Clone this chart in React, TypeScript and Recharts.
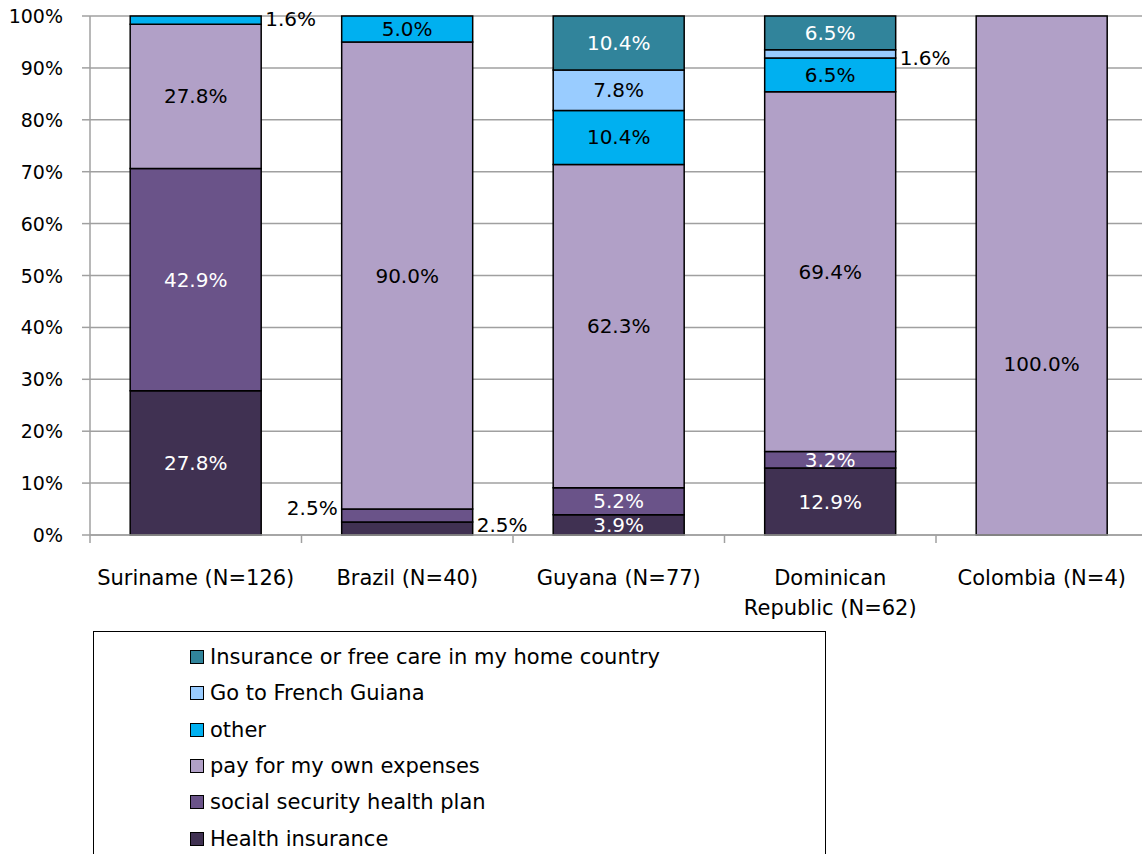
import React from 'react';
import { BarChart, Bar, XAxis, YAxis, CartesianGrid, LabelList } from 'recharts';

const categories = ['Suriname (N=126)', 'Brazil (N=40)', 'Guyana (N=77)', 'Dominican Republic (N=62)', 'Colombia (N=4)'];
const healthInsurance = [27.8, 2.5, 3.9, 12.9, 0];
const socialSecurity = [42.9, 2.5, 5.2, 3.2, 0];
const payOwnExpenses = [27.8, 90.0, 62.3, 69.4, 100.0];
const other = [1.6, 5.0, 10.4, 6.5, 0];
const goToFrenchGuiana = [0, 0, 7.8, 1.6, 0];
const homeCountryCare = [0, 0, 10.4, 6.5, 0];
const yTicks = [0, 0.1, 0.2, 0.3, 0.4, 0.5, 0.6, 0.7, 0.8, 0.9, 1];

const SERIES = [
  { key: 'health', name: 'Health insurance', values: healthInsurance, fill: '#403152', text: '#ffffff' },
  { key: 'social', name: 'social security health plan', values: socialSecurity, fill: '#6a5389', text: '#ffffff' },
  { key: 'pay', name: 'pay for my own expenses', values: payOwnExpenses, fill: '#b1a0c7', text: '#000000' },
  { key: 'other', name: 'other', values: other, fill: '#00b0f0', text: '#000000' },
  { key: 'fg', name: 'Go to French Guiana', values: goToFrenchGuiana, fill: '#99ccff', text: '#000000' },
  { key: 'home', name: 'Insurance or free care in my home country', values: homeCountryCare, fill: '#31849b', text: '#ffffff' },
];

// labels Excel moved off the segment centre (thin segments pushed outside)
const LABEL_POS: Record<string, { side: 'left' | 'right' | 'center'; dy: number }> = {
  'other-0': { side: 'right', dy: -1 },
  'social-1': { side: 'left', dy: -8 },
  'health-1': { side: 'right', dy: -4 },
  'fg-3': { side: 'right', dy: 4 },
  'pay-4': { side: 'center', dy: 88 },
};

const data = categories.map((name, i) => {
  const row: Record<string, any> = { name };
  SERIES.forEach(s => { row[s.key] = s.values[i]; });
  return row;
});

const FONT = 'DejaVu Sans';
const PLOT_LEFT = 90;
const PLOT_RIGHT = 1147.5;
const BAND = (PLOT_RIGHT - PLOT_LEFT) / categories.length;

function wrap(text: string, max: number) {
  const words = text.split(' ');
  const lines: string[] = [];
  let cur = '';
  words.forEach(w => {
    const next = cur ? cur + ' ' + w : w;
    if (next.length > max && cur) { lines.push(cur); cur = w; } else cur = next;
  });
  if (cur) lines.push(cur);
  return lines;
}

const CategoryTick = ({ x, y, payload }: any) => {
  const lines = wrap(payload.value, 16);
  return (
    <g>
      <line x1={x - BAND / 2} x2={x - BAND / 2} y1={y} y2={y + 8} stroke="#a0a0a0" strokeWidth={1.5} />
      <text x={x} y={y} textAnchor="middle" fontSize={21} fill="#000" fontFamily={FONT}>
        {lines.map((l, i) => (
          <tspan key={i} x={x} dy={i === 0 ? 50 : 30}>{l}</tspan>
        ))}
      </text>
    </g>
  );
};

const PercentTick = ({ x, y, payload }: any) => (
  <g>
    <line x1={x - 8} x2={x} y1={y} y2={y} stroke="#a0a0a0" strokeWidth={1.5} />
    <text x={x - 27} y={y} dy={7} textAnchor="end" fontSize={19} fill="#000" fontFamily={FONT}>
      {`${Math.round(payload.value * 100)}%`}
    </text>
  </g>
);

const makeLabel = (s: typeof SERIES[0]) => (props: any) => {
  const { x, y, width, height } = props;
  if (!height) return null;
  // which category this segment belongs to, from its x position
  const idx = Math.floor((x + width / 2 - PLOT_LEFT) / BAND);
  const v = s.values[idx];
  if (!v) return null;
  const pos = LABEL_POS[`${s.key}-${idx}`];
  const cy = y + height / 2;
  const txt = `${v.toFixed(1)}%`;
  if (pos && pos.side !== 'center') {
    const tx = pos.side === 'right' ? x + width + 4 : x - 4;
    return (
      <text x={tx} y={cy + pos.dy} dominantBaseline="central" textAnchor={pos.side === 'right' ? 'start' : 'end'}
        fontSize={20} fill="#000" fontFamily={FONT}>
        {txt}
      </text>
    );
  }
  return (
    <text x={x + width / 2} y={cy + (pos ? pos.dy : 0)} dominantBaseline="central" textAnchor="middle" fontSize={20} fill={s.text} fontFamily={FONT}>
      {txt}
    </text>
  );
};

export default function App() {
  const legendItems = [...SERIES].reverse();
  return (
    <div style={{ position: 'absolute', left: 0, top: 0, width: 1142, height: 854, overflow: 'hidden', background: '#fff', fontFamily: FONT }}>
      <BarChart
        width={1160}
        height={854}
        data={data}
        stackOffset="expand"
        barCategoryGap="19%"
        margin={{ top: 16, right: 1160 - PLOT_RIGHT, bottom: 229, left: 8 }}
      >
        <CartesianGrid vertical={false} stroke="#a0a0a0" strokeWidth={1.5} />
        <YAxis
          type="number"
          domain={[0, 1]}
          ticks={yTicks}
          width={82}
          tickSize={0}
          tickMargin={0}
          tick={<PercentTick />}
          axisLine={{ stroke: '#a0a0a0', strokeWidth: 1.5 }}
          tickLine={false}
          interval={0}
        />
        <XAxis
          dataKey="name"
          height={90}
          tickSize={0}
          tickMargin={0}
          tick={<CategoryTick />}
          axisLine={{ stroke: '#a0a0a0', strokeWidth: 1.5 }}
          tickLine={false}
          interval={0}
        />
        {SERIES.map(s => (
          <Bar key={s.key} dataKey={s.key} name={s.name} stackId="a" fill={s.fill} stroke="#000" strokeWidth={1.5} isAnimationActive={false}>
            <LabelList dataKey={s.key} content={makeLabel(s)} />
          </Bar>
        ))}
      </BarChart>
      <div style={{ position: 'absolute', left: 93, top: 631, width: 733, height: 260, border: '1.5px solid #000', boxSizing: 'border-box', background: '#fff' }}>
        {legendItems.map((s, i) => (
          <div key={s.key} style={{ position: 'absolute', left: 96, top: 25 + i * 36.3 - 13, height: 26, display: 'flex', alignItems: 'center', whiteSpace: 'nowrap' }}>
            <span style={{ width: 12, height: 12, background: s.fill, border: '1.5px solid #000', marginRight: 6, display: 'inline-block' }} />
            <span style={{ fontSize: 21, color: '#000' }}>{s.name}</span>
          </div>
        ))}
      </div>
    </div>
  );
}
